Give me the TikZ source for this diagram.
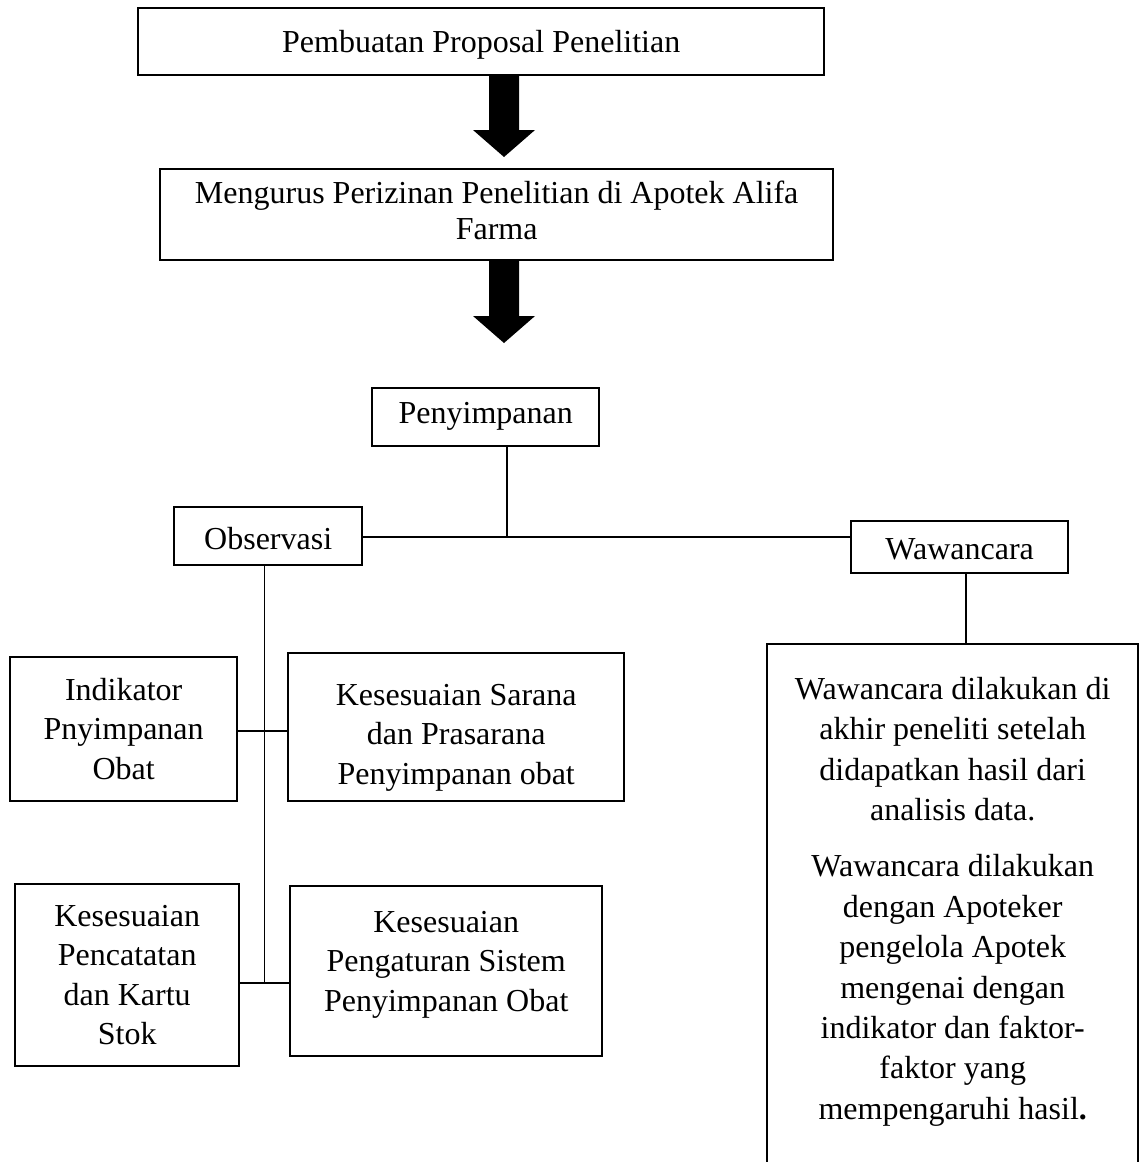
\documentclass[tikz,border=0pt]{standalone}
\usepackage{fontspec}
\setmainfont{Liberation Serif}
\newcommand{\fsz}{\fontsize{16}{19.75}\selectfont}
\newcommand{\fszw}{\fontsize{16}{20.2}\selectfont}
% \tb{width}{height}{top gap}{text}: top-aligned centred text in a box of fixed size
\newcommand{\tb}[4]{\parbox[c][#2][t]{#1}{\centering\vspace*{#3}\rule{0pt}{14pt}#4}}
\tikzset{
  box/.style={draw, line width=1.2pt, inner sep=0pt, anchor=north west, font=\fsz},
  conn/.style={line width=0.6pt},
  bigarrow/.style={fill=black}
}
\begin{document}
\begin{tikzpicture}[x=0.5pt,y=-0.5pt]
\useasboundingbox (0,0) rectangle (1144,1162);
% top boxes
\node[box] (b1) at (137,7) {\tb{343pt}{33.5pt}{8pt}{Pembuatan Proposal Penelitian}};
\node[box] (b2) at (159,168) {\tb{336.5pt}{45.5pt}{3pt}{Mengurus Perizinan Penelitian di Apotek Alifa\\[-1.5pt]Farma}};
% arrows
\coordinate (a1) at (504,74);
\coordinate (a1e) at (504,157);
\fill[bigarrow] (a1) ++(-15,0) -- ++(30,0) -- ++(0,56) -- ++(16,0) -- (a1e) -- ++(-31,-27) -- ++(16,0) -- cycle;
\coordinate (a2) at (504,259);
\coordinate (a2e) at (504,343);
\fill[bigarrow] (a2) ++(-15,0) -- ++(30,0) -- ++(0,57) -- ++(16,0) -- (a2e) -- ++(-31,-27) -- ++(16,0) -- cycle;
% middle
\node[box] (pen) at (371,387) {\tb{113.5pt}{29pt}{3.5pt}{Penyimpanan}};
\node[box] (obs) at (173,506) {\tb{94pt}{29pt}{7pt}{Observasi}};
\node[box] (waw) at (850,520) {\tb{108.5pt}{26pt}{5pt}{Wawancara}};
\coordinate (bus) at (507,537);
\draw[conn] (obs.east |- bus) -- (waw.west |- bus);
\draw[conn] (pen.south -| bus) -- (bus);
% observasi children
\node[box] (ind) at (9,656) {\tb{113.5pt}{72pt}{7.5pt}{Indikator\\Pnyimpanan\\Obat}};
\node[box] (sar) at (287,652) {\tb{168pt}{74pt}{12pt}{Kesesuaian Sarana\\dan Prasarana\\Penyimpanan obat}};
\node[box] (pcat) at (14,883) {\tb{112pt}{91pt}{7pt}{Kesesuaian\\Pencatatan\\dan Kartu\\Stok}};
\node[box] (pgat) at (289,885) {\tb{156pt}{85pt}{9pt}{Kesesuaian\\Pengaturan Sistem\\Penyimpanan Obat}};
\coordinate (v1) at (264.5,731);
\coordinate (v2) at (264.5,983);
\draw[conn] (obs.south -| v1) -- (v2);
\draw[conn] (ind.east |- v1) -- (sar.west |- v1);
\draw[conn] (pcat.east |- v2) -- (pgat.west |- v2);
% wawancara child
\node[box, font=\fszw] (wbox) at (766,643) {\tb{185.5pt}{266pt}{13.5pt}{Wawancara dilakukan di\\akhir peneliti setelah\\didapatkan hasil dari\\analisis data.\\[8pt]Wawancara dilakukan\\dengan Apoteker\\pengelola Apotek\\mengenai dengan\\indikator dan faktor-\\faktor yang\\mempengaruhi hasil\textbf{.}}};
\coordinate (wv) at (966,600);
\draw[conn] (waw.south -| wv) -- (wbox.north -| wv);
\end{tikzpicture}
\end{document}
